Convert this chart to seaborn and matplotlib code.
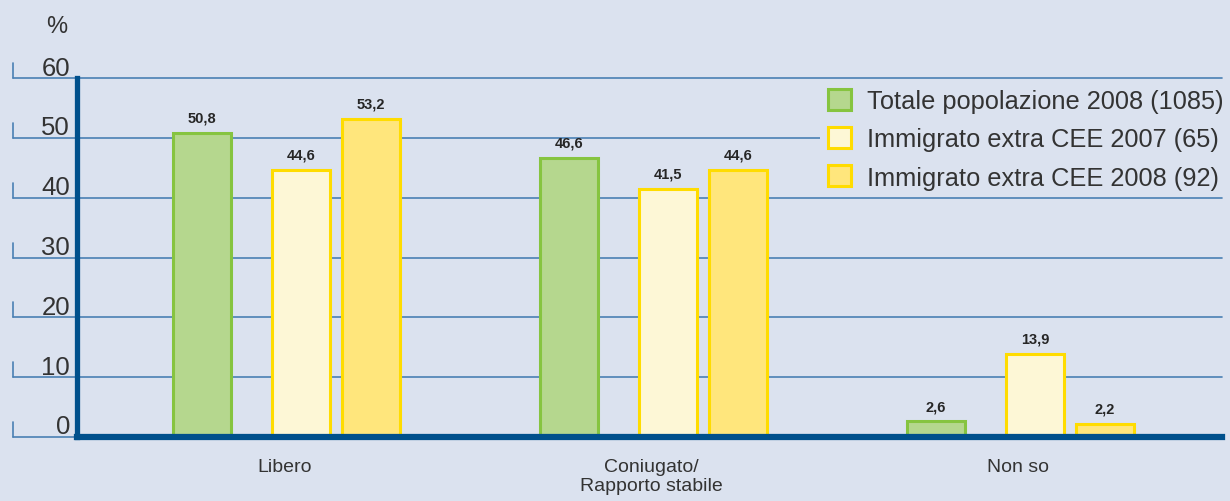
import numpy as np
import pandas as pd
import matplotlib
matplotlib.use("Agg")
import matplotlib.pyplot as plt
import matplotlib.patches as mpatches
from matplotlib.transforms import ScaledTranslation, blended_transform_factory
import seaborn as sns

# data
categorie = ["Libero", "Coniugato/\nRapporto stabile", "Non so"]
serie = ["Totale popolazione 2008 (1085)",
         "Immigrato extra CEE 2007 (65)",
         "Immigrato extra CEE 2008 (92)"]
totale_2008 = [50.8, 46.6, 2.6]
immigrato_2007 = [44.6, 41.5, 13.9]
immigrato_2008 = [53.2, 44.6, 2.2]
y_ticks = [0, 10, 20, 30, 40, 50, 60]

fills = ["#b5d78e", "#fdf7d6", "#ffe67c"]
edges = ["#86c440", "#ffdc00", "#ffdc00"]
bg = "#dbe2ef"
axis_blue = "#00508c"
grid_blue = "#4a80b4"
text_col = "#333333"

df = pd.DataFrame({
    "categoria": categorie * 3,
    "serie": np.repeat(serie, 3),
    "valore": totale_2008 + immigrato_2007 + immigrato_2008,
})

sns.set_style("white")
plt.rcParams["font.family"] = ["Liberation Sans", "DejaVu Sans"]

fig = plt.figure(figsize=(12.3, 5.02), dpi=100, facecolor=bg)
ax = fig.add_axes([77 / 1230, 64 / 502, 1145 / 1230, 359 / 502])
ax.set_facecolor(bg)

sns.barplot(data=df, x="categoria", y="valore", hue="serie",
            palette=fills, saturation=1, width=0.5707, gap=0.171, ax=ax,
            legend=False, zorder=2)

# style each hue's bars, nudge the green ones left like the original
for i, cont in enumerate(ax.containers):
    for p in cont.patches:
        p.set_edgecolor(edges[i])
        p.set_linewidth(2.2)
        if i == 0:
            p.set_x(p.get_x() - 0.0796)
        h = p.get_height()
        ax.annotate(f"{h:.1f}".replace(".", ","),
                    (p.get_x() + p.get_width() / 2, h),
                    xytext=(0, 6), textcoords="offset points",
                    ha="center", va="bottom", fontsize=10.5,
                    fontweight="bold", color="#262626",
                    family=["Liberation Sans Narrow", "Liberation Sans", "DejaVu Sans"])

ax.set_xlim(-0.610, 2.510)
ax.set_ylim(0, 60)

# grid lines reaching left of the axis, with little hooks
trans = blended_transform_factory(ax.transAxes, ax.transData)
for y in y_ticks:
    ax.axhline(y, xmin=-0.056, xmax=1, color=grid_blue, lw=1.2,
               zorder=0.5, clip_on=False)
    ax.plot([-0.056, -0.056], [y, y + 2.5], color=grid_blue, lw=1.2,
            transform=trans, clip_on=False)

ax.set_yticks(y_ticks)
ax.set_yticklabels([str(v) for v in y_ticks])
ax.tick_params(axis="y", length=0, pad=5, labelsize=18.5, labelcolor=text_col)
for lab in ax.get_yticklabels():
    lab.set_transform(lab.get_transform() + ScaledTranslation(0, 0.13, fig.dpi_scale_trans))

ax.set_xticks(np.arange(3) - 0.045)
ax.set_xticklabels(categorie)
ax.tick_params(axis="x", length=0, pad=15, labelsize=14, labelcolor=text_col)

ax.set_xlabel("")
ax.set_ylabel("")
for s in ["top", "right"]:
    ax.spines[s].set_visible(False)
ax.spines["left"].set_color(axis_blue)
ax.spines["left"].set_linewidth(3.8)
ax.spines["bottom"].set_color(axis_blue)
ax.spines["bottom"].set_linewidth(4.5)

fig.text(57 / 1230, 1 - 27 / 502, "%", ha="center", va="center",
         fontsize=17, color=text_col)

# legend box hides the grid lines behind it, as in the original
handles = [mpatches.Patch(facecolor=fills[i], edgecolor=edges[i], lw=2.2)
           for i in range(3)]
ax.legend(handles, serie, loc="upper left",
          bbox_to_anchor=(820 / 1230, 1 - 82 / 502),
          bbox_transform=fig.transFigure, frameon=True, facecolor=bg,
          edgecolor="none", framealpha=1, fontsize=18.3, labelcolor=text_col,
          handlelength=0.9, handleheight=0.9, handletextpad=0.65,
          labelspacing=0.55, borderpad=0.3, borderaxespad=0)

fig.savefig("out.png", dpi=100, facecolor=bg)
